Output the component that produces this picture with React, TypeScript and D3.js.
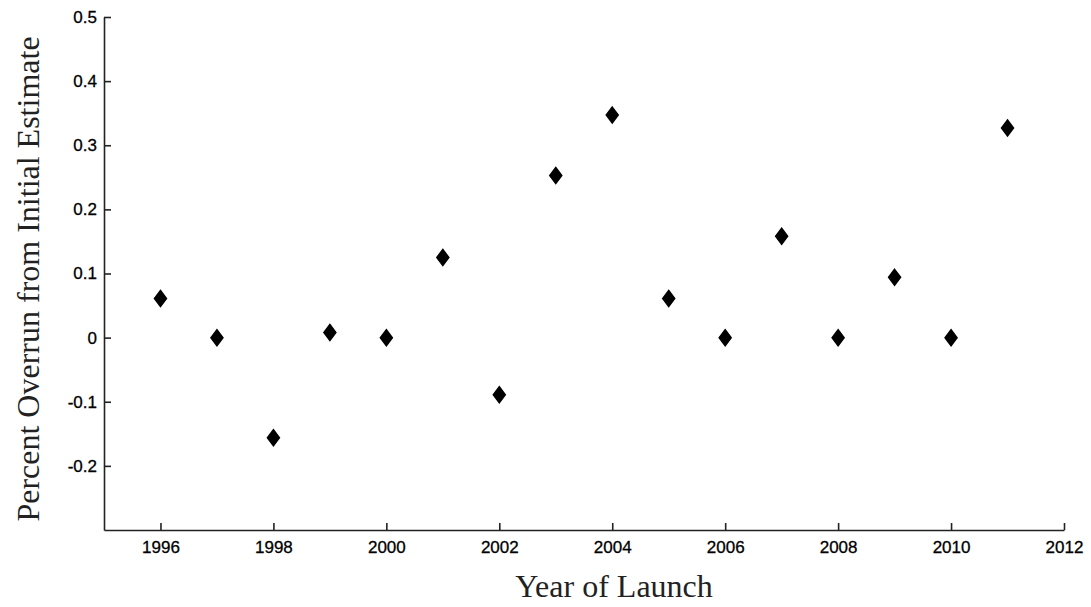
import React, { useEffect, useRef } from 'react';
import * as d3 from 'd3';

const years = [1996, 1997, 1998, 1999, 2000, 2001, 2002, 2003, 2004, 2005, 2006, 2007, 2008, 2009, 2010, 2011];
const overrun = [0.061, 0, -0.156, 0.008, 0, 0.125, -0.089, 0.253, 0.347, 0.061, 0, 0.158, 0, 0.094, 0, 0.327];
const xTicks = [1996, 1998, 2000, 2002, 2004, 2006, 2008, 2010, 2012];
const yTicks = [-0.2, -0.1, 0, 0.1, 0.2, 0.3, 0.4, 0.5];

const W = 1091;
const H = 607;
const left = 104;
const right = 1064;
const top = 17;
const bottom = 530;

function App() {
  const svgRef = useRef<SVGSVGElement>(null);

  useEffect(() => {
    const svg = d3.select(svgRef.current);
    svg.selectAll('*').remove();

    const x = d3.scaleLinear().domain([1995, 2012]).range([left, right]);
    const y = d3.scaleLinear().domain([-0.3, 0.5]).range([bottom, top]);

    const xAxis = d3.axisBottom(x)
      .tickValues(xTicks)
      .tickFormat(d3.format('d'))
      .tickSizeInner(-7)
      .tickSizeOuter(0)
      .tickPadding(11);
    const yAxis = d3.axisLeft(y)
      .tickValues(yTicks)
      .tickFormat((d) => (d === 0 ? '0' : (d as number).toFixed(1)))
      .tickSizeInner(-7)
      .tickSizeOuter(0)
      .tickPadding(7);

    const gx = svg.append('g')
      .attr('transform', `translate(0,${bottom})`)
      .call(xAxis);
    const gy = svg.append('g')
      .attr('transform', `translate(${left},0)`)
      .call(yAxis);

    [gx, gy].forEach((g) => {
      g.selectAll('path, line').attr('stroke', '#222').attr('stroke-width', 1.6);
      g.selectAll('text')
        .attr('font-family', 'Liberation Sans, Arial, sans-serif')
        .attr('font-size', 17)
        .attr('fill', '#000')
        .attr('stroke', '#000')
        .attr('stroke-width', 0.3);
    });

    const diamond = 'M0,-8 L6,0 L0,8 L-6,0 Z';
    svg.append('g')
      .selectAll('path')
      .data(years)
      .join('path')
      .attr('d', diamond)
      .attr('transform', (d, i) => `translate(${x(d)},${y(overrun[i])})`)
      .attr('fill', '#000')
      .attr('stroke', '#000')
      .attr('stroke-width', 1.5);

    svg.append('text')
      .attr('x', 614)
      .attr('y', 597)
      .attr('text-anchor', 'middle')
      .attr('font-family', 'Liberation Serif, serif')
      .attr('font-size', 32)
      .attr('fill', '#222')
      .text('Year of Launch');

    svg.append('text')
      .attr('transform', `translate(39,279) rotate(-90)`)
      .attr('text-anchor', 'middle')
      .attr('font-family', 'Liberation Serif, serif')
      .attr('font-size', 32)
      .attr('fill', '#222')
      .text('Percent Overrun from Initial Estimate');
  }, []);

  return (
    <svg
      ref={svgRef}
      width={W}
      height={H}
      style={{ position: 'absolute', left: 0, top: 0, background: '#fff' }}
    />
  );
}

export default App;
